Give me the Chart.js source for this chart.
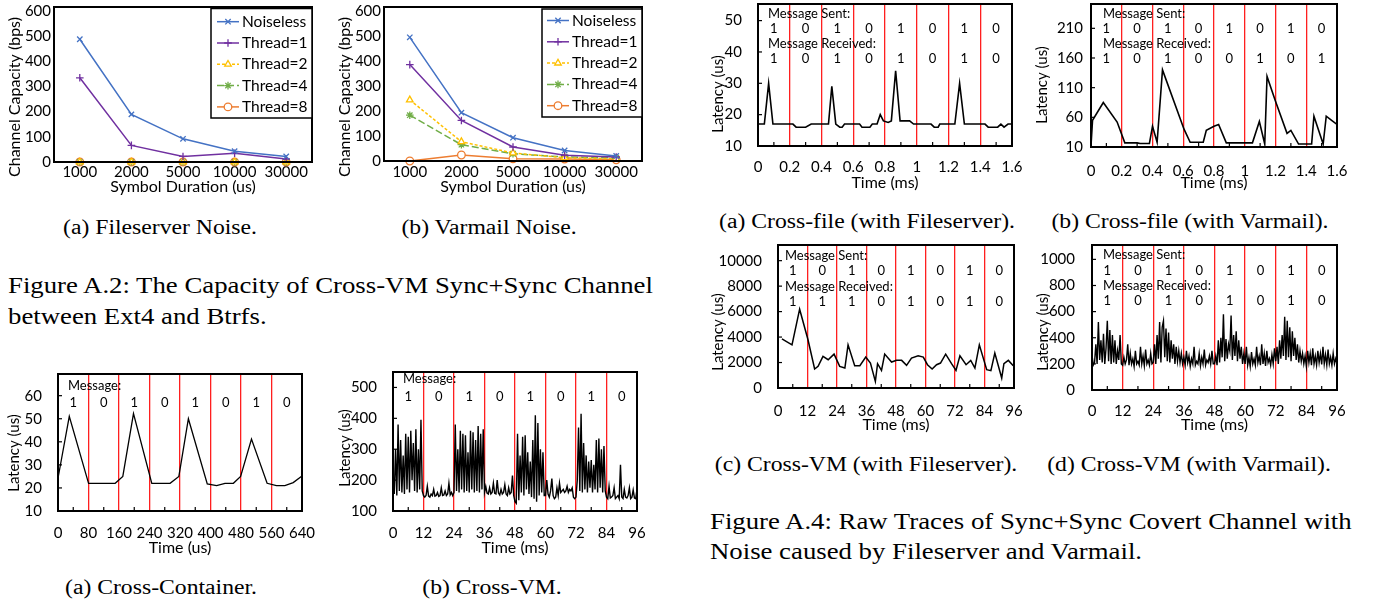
<!DOCTYPE html>
<html><head><meta charset="utf-8">
<script src="https://cdn.jsdelivr.net/npm/chart.js"></script>
<style>
html,body{margin:0;padding:0;background:#fff;}
body{width:1375px;height:600px;position:relative;overflow:hidden;}
canvas{position:absolute;}
.cap{position:absolute;font-family:"Liberation Serif","Times New Roman",serif;white-space:nowrap;color:#000;}
.sub{font-size:20.5px;line-height:1;transform:translate(-50%,0) scaleX(1.155);}
.fig{font-size:24px;transform-origin:0 0;transform:scaleX(1.115);}
</style></head><body>
<canvas id="cA1"></canvas><canvas id="cA2"></canvas>
<canvas id="cB"></canvas><canvas id="cC"></canvas>
<canvas id="cD"></canvas><canvas id="cE"></canvas>
<canvas id="cF"></canvas><canvas id="cG"></canvas>

<div class="cap sub" style="left:159.7px;top:216.6px">(a) Fileserver Noise.</div>
<div class="cap sub" style="left:489px;top:216.6px">(b) Varmail Noise.</div>
<div class="cap fig" style="left:8px;top:269.9px;line-height:30.7px">Figure A.2: The Capacity of Cross-VM Sync+Sync Channel<br>between Ext4 and Btrfs.</div>
<div class="cap sub" style="left:866.5px;top:210.6px">(a) Cross-file (with Fileserver).</div>
<div class="cap sub" style="left:1190px;top:210.6px">(b) Cross-file (with Varmail).</div>
<div class="cap sub" style="left:866px;top:453.6px">(c) Cross-VM (with Fileserver).</div>
<div class="cap sub" style="left:1189px;top:453.6px">(d) Cross-VM (with Varmail).</div>
<div class="cap fig" style="left:710px;top:507px;line-height:29.5px">Figure A.4: Raw Traces of Sync+Sync Covert Channel with<br>Noise caused by Fileserver and Varmail.</div>
<div class="cap sub" style="left:161px;top:576.6px">(a) Cross-Container.</div>
<div class="cap sub" style="left:492px;top:576.6px">(b) Cross-VM.</div>

<script>
// ================= DATA =================
// Figure A.2 : channel capacity (bps) vs symbol duration (us)
const durations = ['1000', '2000', '5000', '10000', '30000'];
const seriesNames = ['Noiseless', 'Thread=1', 'Thread=2', 'Thread=4', 'Thread=8'];
const fsNoiseless = [487, 189, 92, 43, 22];
const fsThread1   = [334, 66, 22, 35, 12];
const fsThread2   = [0, 0, 0, 0, 0];
const fsThread4   = [0, 0, 0, 0, 0];
const fsThread8   = [0, 0, 0, 0, 0];
const vmNoiseless = [494, 193, 93, 42, 20];
const vmThread1   = [385, 162, 56, 23, 16];
const vmThread2   = [244, 77, 32, 13, 9];
const vmThread4   = [183, 65, 29, 16, 12];
const vmThread8   = [0, 24, 9, 8, 5];
const capacityTicks = [0, 100, 200, 300, 400, 500, 600];

// Figure A.4 (a): cross-file with Fileserver, time (ms) / latency (us)
const tB = [0, 0.04, 0.067, 0.094, 0.22, 0.24, 0.30, 0.335, 0.444, 0.465, 0.49, 0.515, 0.53, 0.545, 0.64, 0.655, 0.705, 0.72, 0.75, 0.77, 0.79, 0.82, 0.84, 0.867, 0.895, 0.955, 0.98, 1.09, 1.11, 1.135, 1.145, 1.24, 1.27, 1.30, 1.43, 1.45, 1.51, 1.53, 1.55, 1.575, 1.6];
const yB = [17, 17, 30, 17, 17, 16, 16, 17, 17, 29, 17, 16, 16, 17, 17, 16, 16, 17, 17, 20, 18, 17.5, 18, 34, 18, 18, 17, 17, 16, 16, 17, 17, 30, 17, 17, 16, 16, 17, 16, 17, 17];
const sentB = [1, 0, 1, 0, 1, 0, 1, 0];
const recvB = [1, 0, 1, 0, 1, 0, 1, 0];
const ticksB_y = [10, 20, 30, 40, 50];

// Figure A.4 (b): cross-file with Varmail
const tC = [0, 0.01, 0.08, 0.17, 0.22, 0.30, 0.32, 0.38, 0.40, 0.43, 0.465, 0.605, 0.645, 0.73, 0.75, 0.80, 0.83, 0.88, 1.05, 1.095, 1.13, 1.145, 1.20, 1.275, 1.30, 1.35, 1.435, 1.45, 1.51, 1.53, 1.565, 1.6];
const yC = [12, 55, 85, 52, 17, 17, 16, 16, 45, 18, 140, 40, 18, 18, 38, 45, 48, 17, 17, 53, 15, 129, 87, 33, 38, 15, 15, 62, 15, 62, 55, 48];
const sentC = [1, 0, 1, 0, 1, 0, 1, 0];
const recvC = [1, 0, 1, 0, 0, 1, 0, 1];
const ticksC_y = [10, 60, 110, 160, 210];

const fileTimeTicks = [0, 0.2, 0.4, 0.6, 0.8, 1, 1.2, 1.4, 1.6];

// Figure A.4 (c): cross-VM with Fileserver
const tD = [1.6, 5.7, 8.8, 12.2, 14.9, 16.3, 18.3, 20.4, 22.8, 25.1, 27.2, 28.5, 31.2, 33.3, 35.7, 37.6, 39.6, 40.5, 42.1, 43.4, 46.2, 48.2, 50.3, 52.3, 54.3, 57.0, 59.1, 60.8, 62.7, 64.5, 66.1, 68.2, 70.6, 72.4, 74.0, 76.5, 78.4, 80.1, 81.9, 84.9, 86.6, 88.2, 91.0, 91.9, 93.7, 95.7];
const yD = [3860, 3390, 6190, 3790, 1490, 1700, 2480, 2220, 2660, 1700, 1570, 3390, 1750, 1750, 2430, 1960, 520, 1910, 1380, 2660, 2040, 2170, 2170, 1780, 2350, 2530, 2430, 1830, 1490, 1830, 1960, 2660, 1910, 1380, 2530, 1830, 2170, 1570, 3390, 1440, 1360, 2740, 780, 1910, 2170, 1750];
const sentD = [1, 0, 1, 0, 1, 0, 1, 0];
const recvD = [1, 1, 1, 0, 1, 0, 1, 0];
const ticksD_y = [0, 2000, 4000, 6000, 8000, 10000];

// Figure A.4 (d): cross-VM with Varmail, one sample every 0.5 ms
const sampleStepE = 0.5;
const yE = [
  270, 190, 210, 350, 200, 520, 230, 380, 210, 430, 200, 320, 530, 220, 460, 200, 420, 210, 380, 200, 300, 230, 420, 200,
  190, 250, 200, 230, 350, 190, 280, 200, 240, 180, 300, 200, 220, 190, 330, 200, 260, 185, 310, 200, 230, 190, 280, 200,
  210, 350, 200, 420, 240, 520, 210, 480, 530, 250, 470, 220, 440, 210, 380, 240, 350, 200, 330, 220, 300, 210, 280, 200,
  250, 190, 300, 210, 260, 180, 240, 200, 330, 190, 220, 200, 280, 185, 250, 200, 310, 190, 230, 210, 260, 200, 300, 200,
  200, 260, 190, 380, 210, 400, 250, 580, 220, 390, 240, 350, 300, 570, 230, 420, 260, 450, 220, 380, 240, 330, 200, 280,
  200, 330, 190, 250, 180, 290, 200, 240, 190, 330, 210, 260, 190, 350, 200, 280, 185, 300, 210, 240, 190, 270, 200, 320,
  220, 330, 200, 380, 240, 420, 260, 560, 230, 530, 250, 480, 220, 450, 260, 400, 230, 350, 210, 300, 220, 280, 200, 260,
  180, 300, 210, 280, 190, 320, 200, 260, 190, 300, 210, 280, 195, 330, 200, 270, 190, 310, 200, 250, 190, 280, 200, 240, 200
];
const sentE = [1, 0, 1, 0, 1, 0, 1, 0];
const recvE = [1, 0, 1, 0, 1, 0, 1, 0];
const ticksE_y = [0, 200, 400, 600, 800, 1000];

const vmTimeTicks = [0, 12, 24, 36, 48, 60, 72, 84, 96];

// Figure (a) Cross-Container, time (us)
const tF = [0, 29.6, 80.2, 150, 170, 198, 246, 294, 317, 342, 391.5, 416, 438, 460, 479, 507.5, 548.5, 573, 595, 617, 640];
const yF = [24.2, 51, 22, 22, 25, 52.2, 22, 22, 25, 50, 21.7, 21, 22, 22, 25, 41.2, 22, 21, 21, 22.3, 25.2];
const msgF = [1, 0, 1, 0, 1, 0, 1, 0];
const ticksF_y = [10, 20, 30, 40, 50, 60];
const containerTimeTicks = [0, 80, 160, 240, 320, 400, 480, 560, 640];

// Figure (b) Cross-VM, one sample every 0.5 ms
const sampleStepG = 0.5;
const yG = [
  190, 155, 300, 150, 380, 165, 330, 160, 280, 155, 350, 170, 340, 160, 360, 200, 320, 165, 365, 160, 300, 170, 395, 165,
  150, 145, 150, 180, 148, 145, 155, 150, 170, 148, 150, 160, 147, 150, 175, 150, 152, 165, 150, 155, 190, 152, 160, 150,
  160, 380, 165, 300, 160, 360, 170, 350, 160, 345, 165, 290, 160, 360, 170, 355, 160, 330, 165, 375, 160, 350, 170, 365,
  160, 180, 158, 155, 175, 155, 160, 190, 157, 155, 200, 158, 152, 170, 155, 160, 185, 155, 150, 175, 155, 160, 215, 150,
  130, 125, 350, 135, 280, 160, 340, 150, 345, 170, 290, 155, 260, 145, 330, 140, 410, 130, 385, 150, 300, 160, 290, 150,
  150, 200, 155, 145, 165, 205, 150, 140, 145, 175, 150, 190, 160, 165, 170, 160, 165, 180, 160, 170, 165, 175, 145, 140,
  145, 200, 370, 165, 415, 160, 320, 170, 280, 160, 260, 175, 265, 160, 250, 170, 330, 160, 335, 175, 300, 160, 310, 165,
  145, 140, 180, 142, 145, 150, 175, 140, 145, 150, 140, 250, 145, 140, 170, 145, 142, 150, 175, 140, 145, 168, 142, 140, 170
];
const msgG = [1, 0, 1, 0, 1, 0, 1, 0];
const ticksG_y = [100, 200, 300, 400, 500];

// ================= LAYOUT (page pixels) =================
const LAYOUT = {
  A1: {box: [0, 0, 330, 205], plot: [54, 7, 312, 162], yLabelRight: 51, xLabelY: 172.5, xTitleY: 187, yTitleAt: [15, 97]},
  A2: {box: [330, 0, 330, 205], plot: [384, 7, 642, 161], yLabelRight: 381, xLabelY: 172.3, xTitleY: 187, yTitleAt: [345, 97]},
  B:  {box: [700, 0, 330, 205], plot: [758, 4, 1012, 146], yLabelRight: 742, xLabelY: 167, xTitleY: 183, yTitleAt: [718, 94]},
  C:  {box: [1030, 0, 345, 205], plot: [1091, 4, 1337, 147], yLabelRight: 1083, xLabelY: 171.5, xTitleY: 183, yTitleAt: [1042, 85]},
  D:  {box: [700, 240, 330, 200], plot: [778, 245, 1014, 388], yLabelRight: 762, xLabelY: 411, xTitleY: 425, yTitleAt: [718, 332]},
  E:  {box: [1030, 240, 345, 200], plot: [1092, 245, 1337, 390], yLabelRight: 1075, xLabelY: 411.5, xTitleY: 425, yTitleAt: [1043, 332]},
  F:  {box: [0, 345, 330, 220], plot: [58, 374, 302, 511], yLabelRight: 42, xLabelY: 533, xTitleY: 548, yTitleAt: [14, 453]},
  G:  {box: [330, 345, 330, 220], plot: [393, 372, 637, 511], yLabelRight: 377, xLabelY: 533, xTitleY: 548, yTitleAt: [345, 448]}
};

const FONT = 'Lato, "Open Sans", sans-serif';
const TICK_SIZE = 15, XTITLE_SIZE = 16, MSG_SIZE = 13;
const RED = '#ff1f1f';
Chart.defaults.font.family = FONT;
Chart.defaults.font.size = TICK_SIZE;
Chart.defaults.color = '#000';

function drawMarker(ctx, style, x, y, r, color, fill, bw) {
  ctx.save();
  ctx.strokeStyle = color; ctx.lineWidth = bw; ctx.setLineDash([]);
  ctx.beginPath();
  const d = r * Math.SQRT1_2;
  if (style === 'circle') {
    ctx.arc(x, y, r, 0, Math.PI * 2); ctx.fillStyle = fill; ctx.fill();
  } else if (style === 'triangle') {
    for (let k = 0; k < 3; k++) {
      const ang = k * 2 * Math.PI / 3;
      const px = x + Math.sin(ang) * r, py = y - Math.cos(ang) * r;
      if (k === 0) ctx.moveTo(px, py); else ctx.lineTo(px, py);
    }
    ctx.closePath(); ctx.fillStyle = fill; ctx.fill();
  } else {
    if (style === 'cross' || style === 'star') {
      ctx.moveTo(x - r, y); ctx.lineTo(x + r, y); ctx.moveTo(x, y - r); ctx.lineTo(x, y + r);
    }
    if (style === 'crossRot' || style === 'star') {
      ctx.moveTo(x - d, y - d); ctx.lineTo(x + d, y + d); ctx.moveTo(x - d, y + d); ctx.lineTo(x + d, y - d);
    }
  }
  ctx.stroke();
  ctx.restore();
}

function makeDecor(o) {
  return {
    id: 'decor',
    afterDraw(chart) {
      const ctx = chart.ctx, a = chart.chartArea, sx = chart.scales.x, sy = chart.scales.y;
      const ox = o.origin[0], oy = o.origin[1];
      const seg = (x1, y1, x2, y2) => { ctx.beginPath(); ctx.moveTo(x1, y1); ctx.lineTo(x2, y2); ctx.stroke(); };
      ctx.save();
      ctx.setLineDash([]);
      ctx.strokeStyle = '#000';
      ctx.lineWidth = 1.2;
      if (o.xMinorStep) {
        sy.ticks.forEach(t => {
          const p = sy.getPixelForValue(t.value);
          if (p > a.top + 2 && p < a.bottom - 2) seg(a.left, p, a.left + 4, p);
        });
        const majors = sx.ticks.map(t => t.value);
        const st = o.xMinorStep;
        for (let k = 1; sx.min + k * st < sx.max - st * 1e-3; k++) {
          const v = sx.min + k * st;
          if (majors.some(m => Math.abs(m - v) < st * 1e-3)) continue;
          const p = sx.getPixelForValue(v);
          seg(p, a.bottom, p, a.bottom - 4);
        }
      }
      // plot frame
      ctx.lineWidth = 2;
      ctx.strokeRect(a.left, a.top, a.right - a.left, a.bottom - a.top);
      // rotated y title
      ctx.save();
      ctx.fillStyle = '#000';
      ctx.font = o.yTitleSize + 'px ' + FONT;
      ctx.textAlign = 'center'; ctx.textBaseline = 'middle';
      ctx.translate(o.yTitleAt[0] - ox, o.yTitleAt[1] - oy);
      ctx.rotate(-Math.PI / 2);
      ctx.fillText(o.yTitle, 0, 0);
      ctx.restore();
      // legend box
      if (o.legend) {
        const lg = o.legend;
        const x1 = lg.box[0] - ox, y1 = lg.box[1] - oy, x2 = lg.box[2] - ox, y2 = lg.box[3] - oy;
        ctx.fillStyle = '#fff'; ctx.fillRect(x1, y1, x2 - x1, y2 - y1);
        ctx.lineWidth = 1.5; ctx.strokeStyle = '#000'; ctx.strokeRect(x1, y1, x2 - x1, y2 - y1);
        chart.data.datasets.forEach((ds, i) => {
          const y = lg.firstY - oy + i * lg.step;
          ctx.strokeStyle = ds.borderColor; ctx.lineWidth = ds.borderWidth;
          ctx.setLineDash(ds.borderDash || []);
          seg(lg.sx1 - ox, y, lg.sx2 - ox, y);
          ctx.setLineDash([]);
          drawMarker(ctx, ds.pointStyle, (lg.sx1 + lg.sx2) / 2 - ox, y, ds.pointRadius, ds.borderColor, ds.pointBackgroundColor, ds.pointBorderWidth);
          ctx.fillStyle = '#000'; ctx.font = '15.5px ' + FONT;
          ctx.textAlign = 'left'; ctx.textBaseline = 'middle';
          ctx.fillText(ds.label, lg.textX - ox, y);
        });
      }
      // message annotations
      if (o.messages) {
        ctx.fillStyle = '#000'; ctx.font = MSG_SIZE + 'px ' + FONT; ctx.textBaseline = 'middle';
        const tv = sx.ticks.map(t => t.value);
        o.messages.rows.forEach(r => {
          ctx.textAlign = 'left';
          ctx.fillText(r.label, o.messages.labelX - ox, r.labelY - oy);
          ctx.textAlign = 'center';
          r.bits.forEach((b, i) => {
            const px = sx.getPixelForValue((tv[i] + tv[i + 1]) / 2);
            ctx.fillText(String(b), px, r.bitsY - oy);
          });
        });
      }
      ctx.restore();
    }
  };
}

function makeChart(id, sp, cfg) {
  const [bx, by, bw, bh] = sp.box;
  const [L, T, R, B] = sp.plot;
  const c = document.getElementById(id);
  c.width = bw; c.height = bh;
  c.style.left = bx + 'px'; c.style.top = by + 'px';
  c.style.width = bw + 'px'; c.style.height = bh + 'px';
  const tickLH = TICK_SIZE * 1.2, titleLH = XTITLE_SIZE * 1.2;
  const yW = L - bx, xH = by + bh - B;
  const isCat = cfg.xType === 'category';
  const xs = {
    type: cfg.xType,
    offset: isCat,
    afterFit: s => { s.height = xH; s.paddingLeft = 0; s.paddingRight = 0; },
    border: {display: false},
    ticks: {autoSkip: false, maxRotation: 0, minRotation: 0, padding: sp.xLabelY - B - tickLH / 2, font: {size: TICK_SIZE}},
    title: {display: true, text: cfg.xTitle, font: {size: XTITLE_SIZE}, padding: {top: 0, bottom: by + bh - sp.xTitleY - titleLH / 2}}
  };
  if (isCat) {
    xs.grid = {display: false, drawTicks: false};
  } else {
    const n = cfg.xTicks.length;
    xs.min = cfg.xTicks[0]; xs.max = cfg.xTicks[n - 1];
    xs.afterBuildTicks = s => { s.ticks = cfg.xTicks.map(v => ({value: v})); };
    xs.ticks.callback = v => String(v);
    xs.grid = {display: true, drawTicks: false, lineWidth: 1.3,
      color: ctx => (ctx.index > 0 && ctx.index < n - 1) ? RED : 'rgba(0,0,0,0)'};
  }
  const ys = {
    type: 'linear', min: cfg.yMin, max: cfg.yMax,
    afterFit: s => { s.width = yW; s.paddingTop = 0; s.paddingBottom = 0; },
    afterBuildTicks: s => { s.ticks = cfg.yTicks.map(v => ({value: v})); },
    grid: {display: false, drawTicks: false},
    border: {display: false},
    ticks: {padding: L - sp.yLabelRight, font: {size: TICK_SIZE}, callback: v => String(v)}
  };
  const decorOpts = Object.assign({origin: [bx, by], yTitleAt: sp.yTitleAt}, cfg.decor);
  const data = {datasets: cfg.datasets};
  if (cfg.labels) data.labels = cfg.labels;
  return new Chart(c, {
    type: 'line',
    data,
    options: {
      responsive: false, animation: false, events: [],
      layout: {padding: {left: 0, top: T - by, right: bx + bw - R, bottom: 0}},
      plugins: {legend: {display: false}, tooltip: {enabled: false}},
      scales: {x: xs, y: ys}
    },
    plugins: [makeDecor(decorOpts)]
  });
}

// ---- capacity charts ----
const SERIES_STYLE = [
  {color: '#4472C4', dash: [], point: 'crossRot', bg: '#4472C4'},
  {color: '#7030A0', dash: [], point: 'cross', bg: '#7030A0'},
  {color: '#FFC000', dash: [3, 2], point: 'triangle', bg: '#ffffff'},
  {color: '#70AD47', dash: [7, 3], point: 'star', bg: '#70AD47'},
  {color: '#ED7D31', dash: [], point: 'circle', bg: '#ffffff'}
];
function capDatasets(seriesList) {
  return seriesList.map((vals, i) => ({
    label: seriesNames[i], data: vals,
    borderColor: SERIES_STYLE[i].color, borderWidth: 1.5, borderDash: SERIES_STYLE[i].dash,
    pointStyle: SERIES_STYLE[i].point, pointRadius: 3.8, pointBorderWidth: 1.3,
    pointBorderColor: SERIES_STYLE[i].color, pointBackgroundColor: SERIES_STYLE[i].bg,
    tension: 0, fill: false, clip: false
  }));
}
function traceDataset(ts, vs, w) {
  return [{data: ts.map((t, i) => ({x: t, y: vs[i]})), borderColor: '#000', borderWidth: w,
    pointRadius: 0, tension: 0, fill: false}];
}
const times = (vals, step) => vals.map((_, i) => i * step);

makeChart('cA1', LAYOUT.A1, {
  xType: 'category', labels: durations, xTitle: 'Symbol Duration (us)',
  yMin: 0, yMax: 615, yTicks: capacityTicks,
  datasets: capDatasets([fsNoiseless, fsThread1, fsThread2, fsThread4, fsThread8]),
  decor: {yTitle: 'Channel Capacity (bps)', yTitleSize: 16,
    legend: {box: [211, 8.5, 312, 118], firstY: 21.7, step: 21.3, sx1: 217, sx2: 239, textX: 242}}
});
makeChart('cA2', LAYOUT.A2, {
  xType: 'category', labels: durations, xTitle: 'Symbol Duration (us)',
  yMin: 0, yMax: 615, yTicks: capacityTicks,
  datasets: capDatasets([vmNoiseless, vmThread1, vmThread2, vmThread4, vmThread8]),
  decor: {yTitle: 'Channel Capacity (bps)', yTitleSize: 16,
    legend: {box: [542, 9, 642, 117], firstY: 20.5, step: 21.3, sx1: 547, sx2: 569, textX: 572}}
});
makeChart('cB', LAYOUT.B, {
  xType: 'linear', xTicks: fileTimeTicks, xTitle: 'Time (ms)',
  yMin: 10, yMax: 55.3, yTicks: ticksB_y,
  datasets: traceDataset(tB, yB, 1.6),
  decor: {yTitle: 'Latency (us)', yTitleSize: 15, xMinorStep: 0.1,
    messages: {labelX: 768, rows: [
      {label: 'Message Sent:', labelY: 14, bits: sentB, bitsY: 29.3},
      {label: 'Message Received:', labelY: 44, bits: recvB, bitsY: 59.3}]}}
});
makeChart('cC', LAYOUT.C, {
  xType: 'linear', xTicks: fileTimeTicks, xTitle: 'Time (ms)',
  yMin: 10, yMax: 251, yTicks: ticksC_y,
  datasets: traceDataset(tC, yC, 1.6),
  decor: {yTitle: 'Latency (us)', yTitleSize: 15, xMinorStep: 0.1,
    messages: {labelX: 1103, rows: [
      {label: 'Message Sent:', labelY: 13.5, bits: sentC, bitsY: 28.8},
      {label: 'Message Received:', labelY: 44, bits: recvC, bitsY: 59.3}]}}
});
makeChart('cD', LAYOUT.D, {
  xType: 'linear', xTicks: vmTimeTicks, xTitle: 'Time (ms)',
  yMin: 0, yMax: 11230, yTicks: ticksD_y,
  datasets: traceDataset(tD, yD, 1.5),
  decor: {yTitle: 'Latency (us)', yTitleSize: 15, xMinorStep: 6,
    messages: {labelX: 785, rows: [
      {label: 'Message Sent:', labelY: 256, bits: sentD, bitsY: 271},
      {label: 'Message Received:', labelY: 286.5, bits: recvD, bitsY: 301.5}]}}
});
makeChart('cE', LAYOUT.E, {
  xType: 'linear', xTicks: vmTimeTicks, xTitle: 'Time (ms)',
  yMin: 0, yMax: 1110, yTicks: ticksE_y,
  datasets: traceDataset(times(yE, sampleStepE), yE, 1.4),
  decor: {yTitle: 'Latency (us)', yTitleSize: 15, xMinorStep: 6,
    messages: {labelX: 1103, rows: [
      {label: 'Message Sent:', labelY: 255, bits: sentE, bitsY: 270.5},
      {label: 'Message Received:', labelY: 286, bits: recvE, bitsY: 301}]}}
});
makeChart('cF', LAYOUT.F, {
  xType: 'linear', xTicks: containerTimeTicks, xTitle: 'Time (us)',
  yMin: 10, yMax: 69.4, yTicks: ticksF_y,
  datasets: traceDataset(tF, yF, 1.3),
  decor: {yTitle: 'Latency (us)', yTitleSize: 15, xMinorStep: 40,
    messages: {labelX: 68, rows: [{label: 'Message:', labelY: 385.7, bits: msgF, bitsY: 403.3}]}}
});
makeChart('cG', LAYOUT.G, {
  xType: 'linear', xTicks: vmTimeTicks, xTitle: 'Time (ms)',
  yMin: 100, yMax: 550, yTicks: ticksG_y,
  datasets: traceDataset(times(yG, sampleStepG), yG, 1.4),
  decor: {yTitle: 'Latency (us)', yTitleSize: 15, xMinorStep: 6,
    messages: {labelX: 403, rows: [{label: 'Message:', labelY: 379.3, bits: msgG, bitsY: 397.3}]}}
});
</script>
</body></html>
